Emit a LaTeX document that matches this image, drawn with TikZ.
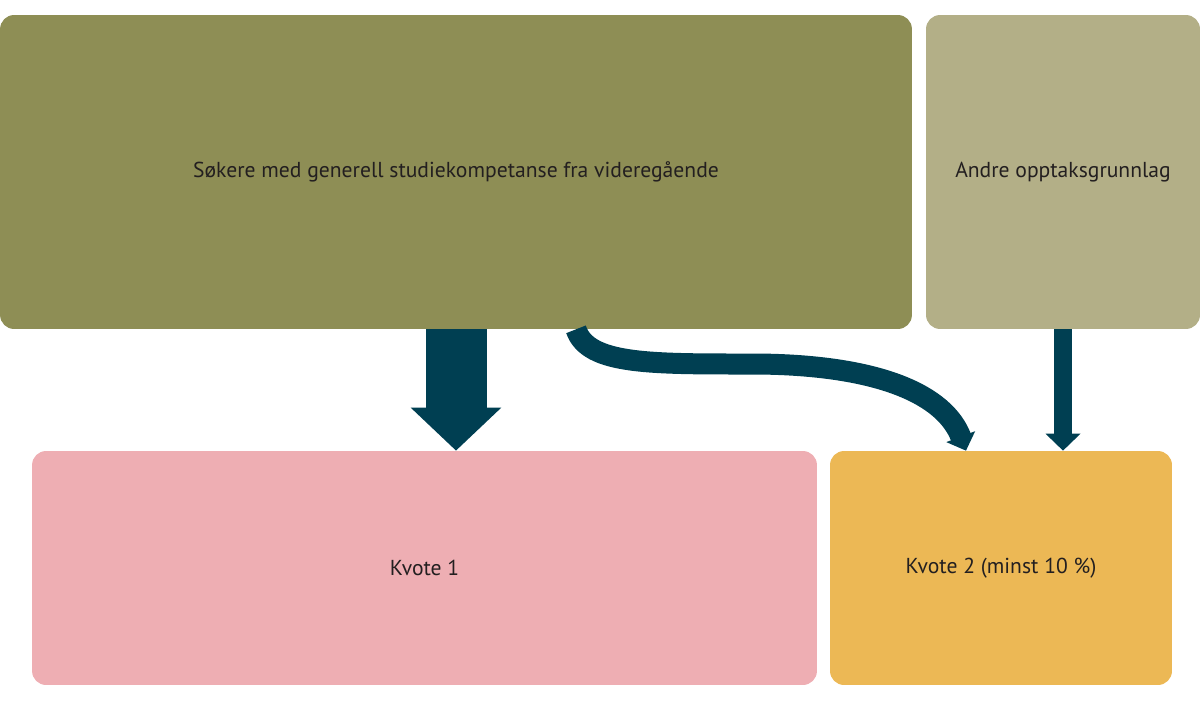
\documentclass[tikz,border=0pt]{standalone}
\usepackage{fontspec}
\setmainfont{PT Sans}
\usetikzlibrary{arrows.meta}
\definecolor{olive}{HTML}{8E8E55}
\definecolor{lightolive}{HTML}{B3AF87}
\definecolor{kvotepink}{HTML}{EEAEB3}
\definecolor{kvotegold}{HTML}{ECB855}
\definecolor{arrowblue}{HTML}{003F52}
\definecolor{textdark}{HTML}{231F20}
\begin{document}
\begin{tikzpicture}[x=0.02cm,y=-0.02cm,
  box/.style={rectangle, rounded corners=0.28cm, inner sep=0pt, text=textdark, font=\fontsize{12.3}{15}\selectfont},
  flow/.style={draw=arrowblue, line width=#1}]
\useasboundingbox (0,0) rectangle (1200,700);
\node[box, fill=olive, minimum width=18.24cm, minimum height=6.28cm](s) at (456,172){Søkere med generell studiekompetanse fra videregående};
\node[box, fill=lightolive, minimum width=5.48cm, minimum height=6.28cm](a) at (1063,172){Andre opptaksgrunnlag};
\node[box, fill=kvotepink, minimum width=15.7cm, minimum height=4.68cm](k) at (424.5,568){Kvote 1};
\node[box, fill=kvotegold, minimum width=6.84cm, minimum height=4.68cm](q) at (1001,568){Kvote 2 (minst 10 \%)};
\coordinate (x1) at (456,0);
\coordinate (x2) at (576,0);
\coordinate (x3) at (966,0);
\coordinate (x4) at (1063,0);
\draw[flow=1.22cm, -{Triangle[width=1.76cm,length=0.86cm]}] (s.south -| x1) -- (k.north -| x1);
\draw[flow=0.42cm, -{Triangle[width=0.6cm,length=0.3cm]}] (s.south -| x2) .. controls (588,365) and (650,364) .. (757,364) .. controls (880,365) and (945,395) .. (q.north -| x3);
\draw[flow=0.36cm, -{Triangle[width=0.68cm,length=0.34cm]}] (a.south -| x4) -- (q.north -| x4);
\end{tikzpicture}
\end{document}
